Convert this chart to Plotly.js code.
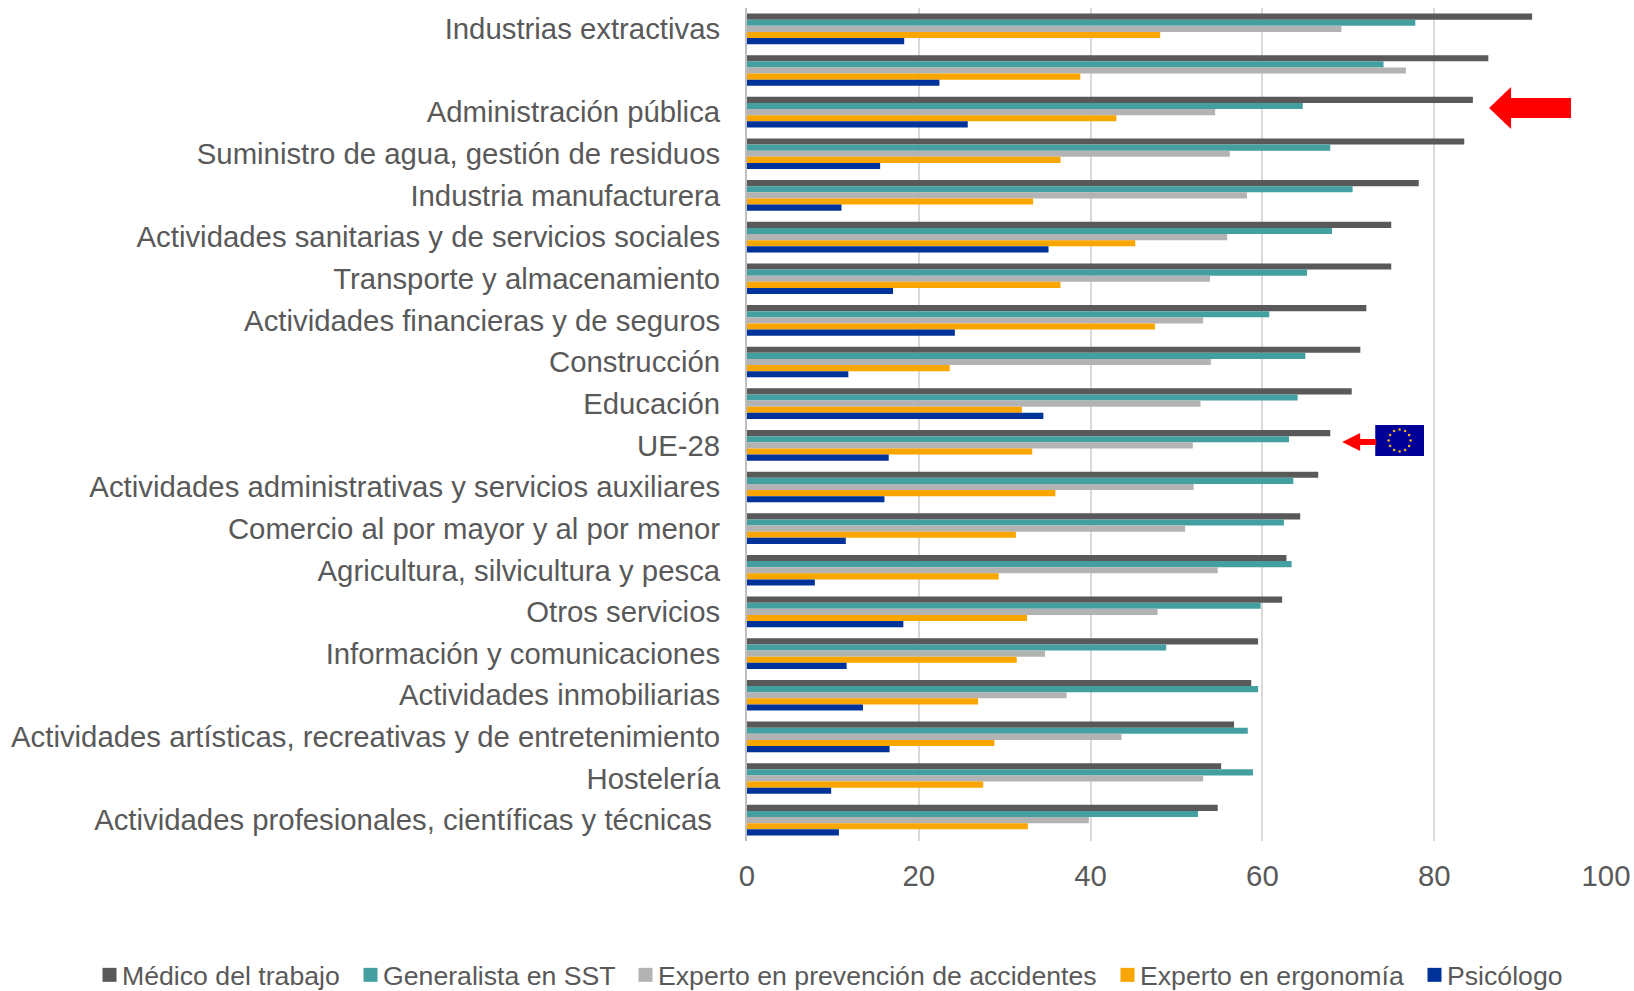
<!DOCTYPE html>
<html><head><meta charset="utf-8">
<script src="https://cdn.plot.ly/plotly-3.0.1.min.js"></script>
<style>html,body{margin:0;padding:0;background:#fff}#c{width:1634px;height:991px}</style></head>
<body><div id="c"></div>
<script>
const categories=["Industrias extractivas","\u00a0","Administración pública","Suministro de agua, gestión de residuos","Industria manufacturera","Actividades sanitarias y de servicios sociales","Transporte y almacenamiento","Actividades financieras y de seguros","Construcción","Educación","UE-28","Actividades administrativas y servicios auxiliares","Comercio al por mayor y al por menor","Agricultura, silvicultura y pesca","Otros servicios","Información y comunicaciones","Actividades inmobiliarias","Actividades artísticas, recreativas y de entretenimiento","Hostelería","Actividades profesionales, científicas y técnicas\u00a0"];
const medico=[91.4,86.3,84.5,83.5,78.2,75,75,72.1,71.4,70.4,67.9,66.5,64.4,62.8,62.3,59.5,58.7,56.7,55.2,54.8];
const generalista=[77.8,74.1,64.7,67.9,70.5,68.1,65.2,60.8,65,64.1,63.1,63.6,62.5,63.4,59.8,48.8,59.5,58.3,58.9,52.5];
const prevencion=[69.2,76.7,54.5,56.2,58.2,55.9,53.9,53.1,54,52.8,51.9,52,51,54.8,47.8,34.7,37.2,43.6,53.1,39.8];
const ergonomia=[48.1,38.8,43,36.5,33.3,45.2,36.5,47.5,23.6,32,33.2,35.9,31.3,29.3,32.6,31.4,26.9,28.8,27.5,32.7];
const psicologo=[18.3,22.4,25.7,15.5,11,35.1,17,24.2,11.8,34.5,16.5,16,11.5,7.9,18.2,11.6,13.5,16.6,9.8,10.7];
const seriesNames=["Médico del trabajo","Generalista en SST","Experto en prevención de accidentes","Experto en ergonomía","Psicólogo"];
const seriesValues=[medico,generalista,prevencion,ergonomia,psicologo];
const seriesColors=["#595959","#449FA1","#B3B3B3","#F9A600","#003399"];
const xTicks=[0,20,40,60,80,100];
const legendSwatchX=[102,363,638,1120,1427];

const W=1634,H=991,L=746.5,R=1606,T=8,B=841;
const px=x=>(x-L)/(R-L), py=y=>(B-y)/(B-T);
function arrow(tip,base,end,cy,hh,th){
  const p=[[tip,cy],[base,cy-hh],[base,cy-th],[end,cy-th],[end,cy+th],[base,cy+th],[base,cy+hh]];
  return {type:'shape',xref:'paper',yref:'paper',line:{width:0},fillcolor:'#FF0000',
    path:p.map((q,i)=>(i?'L':'M')+px(q[0])+','+py(q[1])).join(' ')+' Z'};
}
let stars='';
for(let i=0;i<12;i++){const a=i*Math.PI/6;
  stars+=`<circle cx="${24.5+11*Math.cos(a)}" cy="${15.5+11*Math.sin(a)}" r="1.3" fill="#E8B020"/>`;}
const flag='data:image/svg+xml;utf8,'+encodeURIComponent(`<svg xmlns="http://www.w3.org/2000/svg" width="49" height="31" viewBox="0 0 49 31"><rect width="49" height="31" fill="#000099"/>${stars}</svg>`);

const traces=seriesNames.map((n,i)=>({type:'bar',orientation:'h',name:n,y:categories,x:seriesValues[i],
  marker:{color:seriesColors[i],line:{width:0}},hoverinfo:'x+name'}));

const gd=document.getElementById('c');
Plotly.newPlot(gd,traces,{
  width:W,height:H,paper_bgcolor:'#fff',plot_bgcolor:'#fff',
  margin:{l:L,r:W-R,t:T,b:H-B,pad:0,autoexpand:false},
  font:{family:'"Liberation Sans",Arial,sans-serif',color:'#595959',size:29.33},
  barmode:'group',bargap:0.265,bargroupgap:0,
  xaxis:{range:[0,100],tickvals:xTicks,ticktext:xTicks.map(String),showgrid:true,gridcolor:'#D9D9D9',gridwidth:2,
    zeroline:false,showline:false,ticks:'',ticklabelstandoff:15,tickfont:{size:29.33,color:'#595959'},fixedrange:true,automargin:false},
  yaxis:{type:'category',categoryorder:'array',categoryarray:categories,autorange:false,range:[19.5,-0.5],
    tickmode:'array',tickvals:categories,ticktext:categories,showgrid:false,zeroline:false,showline:true,linecolor:'#BFBFBF',linewidth:2,
    ticks:'',ticklabelstandoff:19,tickfont:{size:29.33,color:'#595959'},fixedrange:true,automargin:false},
  legend:{orientation:'h',x:(95-L)/(R-L),xanchor:'left',y:(B-951)/(B-T),yanchor:'top',font:{size:26.67,color:'#595959'},
    traceorder:'normal',itemclick:false,itemdoubleclick:false,bgcolor:'rgba(0,0,0,0)'},
  shapes:[arrow(1489,1511,1571,108,21,10),arrow(1342,1360,1376,442,9,3)],
  images:[{source:flag,xref:'paper',yref:'paper',x:px(1375),y:py(425),sizex:49/(R-L),sizey:31/(B-T),xanchor:'left',yanchor:'top',sizing:'stretch',layer:'above'}],
  showlegend:true
},{displayModeBar:false}).then(()=>{
  // tighten the legend: bigger swatches close to their text, entries at the reference offsets
  const leg=gd.querySelector('.legend');
  const lx=parseFloat(leg.getAttribute('transform').match(/translate\(([-\d.]+)/)[1]);
  const sp=leg.querySelector('.scrollbox'); if(sp) sp.removeAttribute('clip-path');
  leg.removeAttribute('clip-path');
  gd.querySelectorAll('.legend .traces').forEach((t,i)=>{
    const m=t.getAttribute('transform').match(/translate\(([-\d.]+),\s*([-\d.]+)\)/);
    t.setAttribute('transform',`translate(${legendSwatchX[i]-lx},${m[2]})`);
    const pt=t.querySelector('.legendpoints');
    if(pt) pt.setAttribute('transform','translate(7.5,0)');
    t.querySelectorAll('.legendpoints path').forEach(p=>{
      p.setAttribute('d','M7,7H-7V-7H7Z');
      p.setAttribute('transform','translate(0,0)');
    });
    const tx=t.querySelector('.legendtext'); if(tx) tx.setAttribute('x',20);
  });
});
</script></body></html>
